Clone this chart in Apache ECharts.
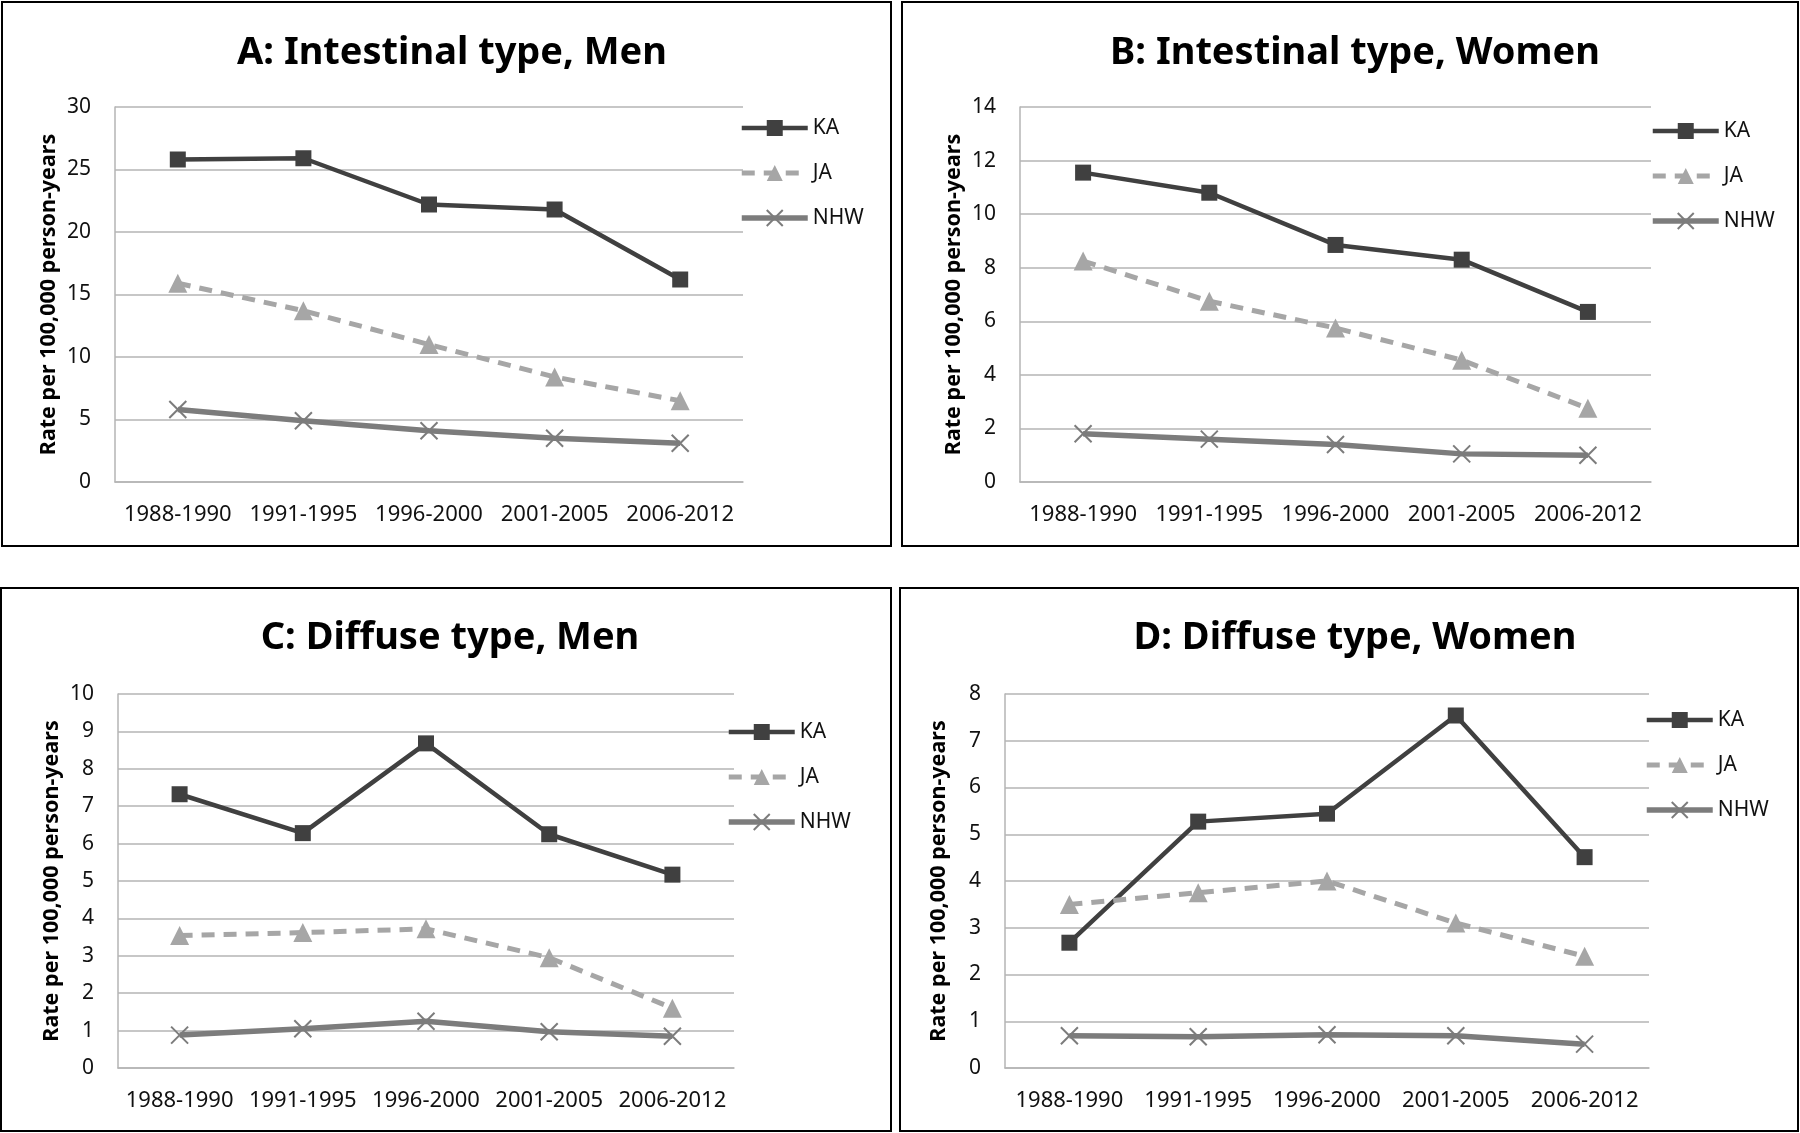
<!DOCTYPE html>
<html>
<head>
<meta charset="utf-8">
<script src="https://cdn.jsdelivr.net/npm/echarts@6/dist/echarts.min.js"></script>
<style>
html,body{margin:0;padding:0;background:#fff;}
#main{width:1800px;height:1133px;}
</style>
</head>
<body>
<div id="main"></div>
<script>
// ---- data ----
var categories = ['1988-1990', '1991-1995', '1996-2000', '2001-2005', '2006-2012'];
var seriesNames = ['KA', 'JA', 'NHW'];
var panelTitles = ['A: Intestinal type, Men', 'B: Intestinal type, Women', 'C: Diffuse type, Men', 'D: Diffuse type, Women'];
var yAxisName = 'Rate per 100,000 person-years';

var intestinalMenKA  = [25.8, 25.9, 22.2, 21.8, 16.2];
var intestinalMenJA  = [15.9, 13.7, 11.0, 8.4, 6.5];
var intestinalMenNHW = [5.8, 4.9, 4.1, 3.5, 3.1];

var intestinalWomenKA  = [11.55, 10.8, 8.85, 8.3, 6.35];
var intestinalWomenJA  = [8.25, 6.75, 5.75, 4.55, 2.75];
var intestinalWomenNHW = [1.8, 1.6, 1.4, 1.05, 1.0];

var diffuseMenKA  = [7.32, 6.28, 8.68, 6.25, 5.17];
var diffuseMenJA  = [3.54, 3.62, 3.72, 2.95, 1.6];
var diffuseMenNHW = [0.88, 1.05, 1.25, 0.97, 0.85];

var diffuseWomenKA  = [2.68, 5.27, 5.44, 7.54, 4.51];
var diffuseWomenJA  = [3.5, 3.75, 4.0, 3.1, 2.39];
var diffuseWomenNHW = [0.69, 0.67, 0.71, 0.69, 0.51];

var yMax = [30, 14, 10, 8];
var yInterval = [5, 2, 1, 1];

var panelData = [
  [intestinalMenKA, intestinalMenJA, intestinalMenNHW],
  [intestinalWomenKA, intestinalWomenJA, intestinalWomenNHW],
  [diffuseMenKA, diffuseMenJA, diffuseMenNHW],
  [diffuseWomenKA, diffuseWomenJA, diffuseWomenNHW]
];

// ---- layout ----
var grids = [
  {left: 115, top: 107, width: 628, height: 375},
  {left: 1020, top: 107, width: 631, height: 375},
  {left: 118, top: 694, width: 616, height: 374},
  {left: 1005, top: 694, width: 644, height: 374}
];
var titlePos = [[447, 29], [1350, 29], [445, 614], [1350, 614]];
var legendPos = [[739, 117], [1650, 120], [726, 721], [1644, 709]];
var boxes = [
  [2, 2, 889, 544], [902, 2, 896, 544], [1, 588, 890, 543], [900, 588, 898, 543]
];

var FONT = '"Noto Sans", "Liberation Sans", sans-serif';
var colKA = '#404040', colJA = '#a6a6a6', colNHW = '#7c7c7c', gridCol = '#b5b5b5';
var xPath = 'path://M0,0L10,10M10,0L0,10';

var styleKA = {line: {color: colKA, width: 4.5}, item: {color: colKA}};
var styleJA = {line: {color: colJA, width: 5, type: [13, 9]}, item: {color: colJA}};
var styleNHW = {line: {color: colNHW, width: 5.5}, item: {color: 'none', borderColor: colNHW, borderWidth: 2}};

var option = {
  animation: false,
  backgroundColor: '#fff',
  title: [], grid: [], xAxis: [], yAxis: [], legend: [], series: [], graphic: []
};

for (var p = 0; p < 4; p++) {
  option.grid.push(grids[p]);
  option.title.push({
    text: panelTitles[p], left: titlePos[p][0], top: titlePos[p][1], textAlign: 'center',
    textStyle: {fontFamily: FONT, fontWeight: 'bold', fontSize: 38, color: '#000'}
  });
  option.xAxis.push({
    type: 'category', gridIndex: p, data: categories, boundaryGap: true,
    axisTick: {show: false},
    axisLine: {show: true, lineStyle: {color: gridCol, width: 1.5}},
    axisLabel: {fontFamily: FONT, fontSize: 22, color: '#111', margin: 22, interval: 0}
  });
  option.yAxis.push({
    type: 'value', gridIndex: p, min: 0, max: yMax[p], interval: yInterval[p],
    name: yAxisName, nameLocation: 'middle', nameGap: 55, nameRotate: 90,
    nameTextStyle: {fontFamily: FONT, fontWeight: 'bold', fontSize: 21.5, color: '#000'},
    axisLine: {show: true, lineStyle: {color: gridCol, width: 1.5}},
    axisTick: {show: false},
    splitLine: {show: true, lineStyle: {color: gridCol, width: 1.5}},
    axisLabel: {fontFamily: FONT, fontSize: 21, color: '#111', margin: 24}
  });
  option.legend.push({
    orient: 'vertical', left: legendPos[p][0], top: legendPos[p][1],
    itemWidth: 66, itemHeight: 20, itemGap: 23,
    data: [
      {name: 'KA', lineStyle: styleKA.line, itemStyle: styleKA.item},
      {name: 'JA', lineStyle: styleJA.line, itemStyle: styleJA.item},
      {name: 'NHW', lineStyle: styleNHW.line, itemStyle: styleNHW.item}
    ],
    textStyle: {fontFamily: FONT, fontSize: 21, color: '#111', lineHeight: 22},
    padding: 0, selectedMode: false
  });
  var d = panelData[p];
  option.series.push({
    name: 'KA', type: 'line', xAxisIndex: p, yAxisIndex: p, data: d[0],
    symbol: 'rect', symbolSize: 16,
    lineStyle: styleKA.line, itemStyle: styleKA.item
  });
  option.series.push({
    name: 'JA', type: 'line', xAxisIndex: p, yAxisIndex: p, data: d[1],
    symbol: 'triangle', symbolSize: 19,
    lineStyle: styleJA.line, itemStyle: styleJA.item
  });
  option.series.push({
    name: 'NHW', type: 'line', xAxisIndex: p, yAxisIndex: p, data: d[2],
    symbol: xPath, symbolSize: 17,
    lineStyle: styleNHW.line, itemStyle: styleNHW.item
  });
  option.graphic.push({
    type: 'rect', shape: {x: boxes[p][0], y: boxes[p][1], width: boxes[p][2], height: boxes[p][3]},
    style: {fill: null, stroke: '#000', lineWidth: 2}, z: 100
  });
}

var chart = echarts.init(document.getElementById('main'), null, {renderer: 'canvas'});
chart.setOption(option);
</script>
</body>
</html>
